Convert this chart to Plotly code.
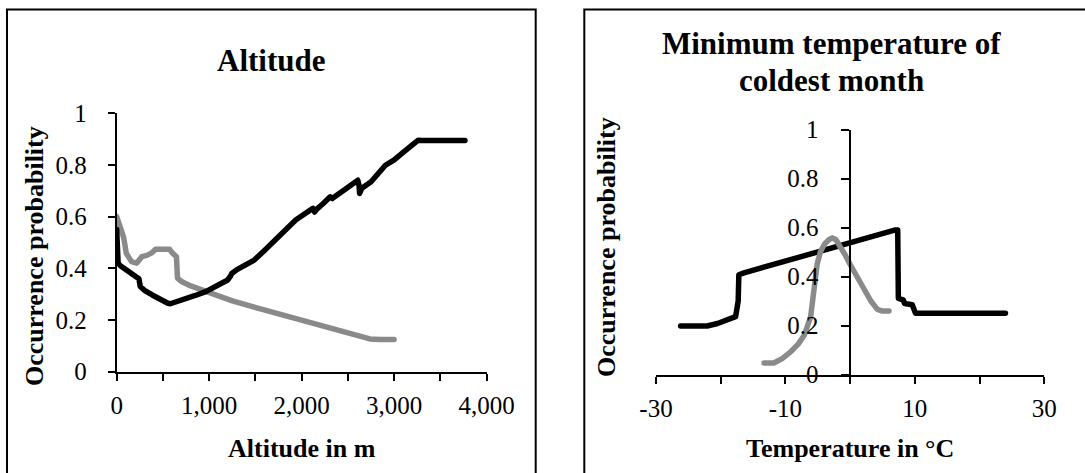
import plotly.graph_objects as go

# ---- Altitude response curves ----
alt_black_x = [0, 5, 15, 40, 100, 150, 215, 240, 255, 300, 384, 460, 553, 580, 650, 739,
               850, 963, 1050, 1150, 1200, 1230, 1244, 1300, 1400, 1487, 1600, 1711, 1800,
               1935, 2050, 2100, 2121, 2140, 2160, 2230, 2308, 2330, 2370, 2450, 2550, 2607,
               2620, 2626, 2650, 2750, 2905, 3000, 3100, 3168, 3230, 3260, 3300, 3500, 3765]
alt_black_y = [0.55, 0.50, 0.42, 0.41, 0.395, 0.385, 0.37, 0.36, 0.33, 0.315, 0.297, 0.28,
               0.265, 0.263, 0.27, 0.282, 0.295, 0.31, 0.325, 0.345, 0.355, 0.37, 0.38,
               0.395, 0.415, 0.432, 0.47, 0.51, 0.54, 0.587, 0.615, 0.625, 0.632, 0.618,
               0.628, 0.65, 0.677, 0.67, 0.68, 0.70, 0.73, 0.741, 0.72, 0.69, 0.71, 0.735,
               0.799, 0.82, 0.85, 0.87, 0.885, 0.896, 0.895, 0.895, 0.895]

alt_gray_x = [0, 20, 50, 75, 104, 130, 160, 216, 240, 271, 325, 380, 421, 480, 571, 600,
              620, 646, 652, 657, 680, 702, 800, 1001, 1250, 1524, 1750, 2009, 2250, 2495,
              2650, 2737, 2850, 2999]
alt_gray_y = [0.60, 0.58, 0.548, 0.52, 0.458, 0.44, 0.426, 0.42, 0.435, 0.445, 0.45, 0.46,
              0.474, 0.475, 0.474, 0.46, 0.45, 0.445, 0.40, 0.362, 0.355, 0.349, 0.332,
              0.304, 0.274, 0.246, 0.224, 0.20, 0.174, 0.149, 0.137, 0.127, 0.125, 0.125]

# ---- Minimum temperature of coldest month response curves ----
tmp_black_x = [-26.2, -22.1, -20.5, -19, -17.7, -17.3, -17.2, -16.4, -10, -5, 0, 3, 6.3,
               7.0, 7.35, 7.45, 8.2, 8.4, 8.9, 9.6, 9.8, 10.1, 15, 24.0]
tmp_black_y = [0.198, 0.198, 0.208, 0.22, 0.236, 0.30, 0.407, 0.415, 0.464, 0.502, 0.538,
               0.561, 0.588, 0.59, 0.59, 0.311, 0.305, 0.29, 0.288, 0.285, 0.27, 0.25,
               0.25, 0.25]

tmp_gray_x = [-13.3, -11.8, -10.5, -9.2, -8, -7.1, -6.1, -5.6, -5.1, -4.6, -4.0, -3.3,
              -2.75, -2.2, -1.5, -0.8, 0, 1, 2.1, 3.2, 4.2, 5, 6.0]
tmp_gray_y = [0.047, 0.047, 0.065, 0.092, 0.125, 0.16, 0.236, 0.346, 0.45, 0.50, 0.531,
              0.55, 0.558, 0.55, 0.524, 0.49, 0.449, 0.40, 0.346, 0.30, 0.266, 0.259, 0.259]

alt_ticks = [0, 500, 1000, 1500, 2000, 2500, 3000, 3500, 4000]
alt_ticktext = ["0", "", "1,000", "", "2,000", "", "3,000", "", "4,000"]
tmp_ticks = [-30, -20, -10, 0, 10, 20, 30]
tmp_ticktext = ["-30", "", "-10", "", "10", "", "30"]
prob_ticks = [0, 0.2, 0.4, 0.6, 0.8, 1]
prob_ticktext = ["0", "0.2", "0.4", "0.6", "0.8", "1"]

W, H = 1085, 473
BLACK = "#000000"
GRAY = "#8a8a8a"
SERIF = "Liberation Serif, Times New Roman, serif"
LW = 5.5


def px_x(p):
    return p / W


def px_y(p):
    return (H - p) / H


fig = go.Figure()
fig.add_trace(go.Scatter(x=alt_gray_x, y=alt_gray_y, mode="lines",
                         line=dict(color=GRAY, width=LW), xaxis="x", yaxis="y"))
fig.add_trace(go.Scatter(x=alt_black_x, y=alt_black_y, mode="lines",
                         line=dict(color=BLACK, width=LW), xaxis="x", yaxis="y"))
fig.add_trace(go.Scatter(x=tmp_black_x, y=tmp_black_y, mode="lines",
                         line=dict(color=BLACK, width=LW), xaxis="x2", yaxis="y2"))
fig.add_trace(go.Scatter(x=tmp_gray_x, y=tmp_gray_y, mode="lines",
                         line=dict(color=GRAY, width=LW), xaxis="x2", yaxis="y2"))

axis_common = dict(showgrid=False, zeroline=False, showline=True, linecolor=BLACK,
                   linewidth=2, ticks="outside", ticklen=7, tickwidth=2, tickcolor=BLACK,
                   tickfont=dict(family=SERIF, size=25, color=BLACK), fixedrange=True,
                   automargin=False)

fig.update_layout(
    width=W, height=H,
    margin=dict(l=0, r=0, t=0, b=0, pad=0),
    paper_bgcolor="white", plot_bgcolor="white",
    showlegend=False,
    xaxis=dict(axis_common, domain=[px_x(116.7), px_x(486.7)], range=[0, 4000],
               tickmode="array", tickvals=alt_ticks, ticktext=alt_ticktext,
               anchor="y", ticklabelstandoff=3),
    yaxis=dict(axis_common, domain=[px_y(371.7), px_y(113.3)], range=[0, 1],
               tickmode="array", tickvals=prob_ticks, ticktext=prob_ticktext,
               anchor="x", ticklabelstandoff=16),
    xaxis2=dict(axis_common, domain=[px_x(656), px_x(1044.3)], range=[-30, 30],
                tickmode="array", tickvals=tmp_ticks, ticktext=tmp_ticktext,
                anchor="y2", ticklabelstandoff=3),
    yaxis2=dict(axis_common, domain=[px_y(374.5), px_y(129.5)], range=[0, 1],
                tickmode="array", tickvals=prob_ticks, ticktext=prob_ticktext,
                anchor="free", position=px_x(849.5), ticklen=8, ticklabelstandoff=17),
)

# chart frames
fig.add_shape(type="rect", xref="paper", yref="paper",
              x0=px_x(7), x1=px_x(535.7), y0=-0.1, y1=px_y(9.5),
              line=dict(color=BLACK, width=2), fillcolor="rgba(0,0,0,0)", layer="above")
fig.add_shape(type="rect", xref="paper", yref="paper",
              x0=px_x(584.3), x1=1.1, y0=-0.1, y1=px_y(9.5),
              line=dict(color=BLACK, width=2), fillcolor="rgba(0,0,0,0)", layer="above")


def label(text, x, y, size, angle=0):
    fig.add_annotation(text=text, x=px_x(x), y=px_y(y), xref="paper", yref="paper",
                       xanchor="center", yanchor="middle", showarrow=False,
                       textangle=angle, font=dict(family=SERIF, size=size, color=BLACK))


label("<b>Altitude</b>", 271.5, 60, 31)
label("<b>Altitude in m</b>", 301.7, 448, 26)
label("<b>Occurrence probability</b>", 34, 256, 26, angle=-90)

label("<b>Minimum temperature of</b>", 831, 43, 31)
label("<b>coldest month</b>", 831, 80, 31)
label("<b>Temperature in °C</b>", 850, 448, 26)
label("<b>Occurrence probability</b>", 606.5, 247.5, 26, angle=-90)

# rounded ends and joins on the curves
round_caps = """
document.querySelectorAll('.js-line').forEach(function (p) {
    p.style.strokeLinecap = 'round';
    p.style.strokeLinejoin = 'round';
});
"""

fig.write_html("out.html", post_script=round_caps)
